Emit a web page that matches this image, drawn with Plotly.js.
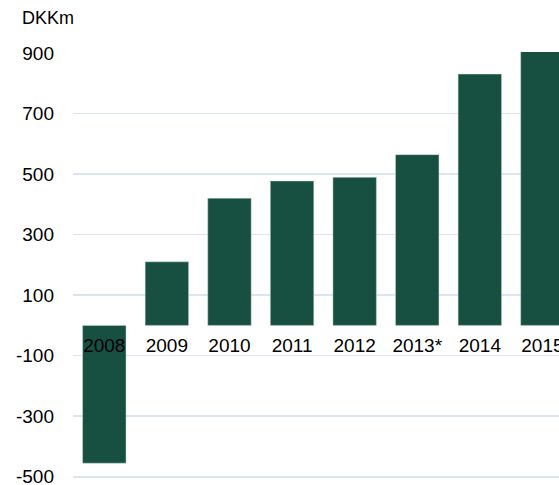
<!DOCTYPE html>
<html>
<head>
<meta charset="utf-8">
<script src="https://cdn.plot.ly/plotly-3.0.1.min.js"></script>
<style>html,body{margin:0;padding:0;background:#fff;}#chart{width:559px;height:485px;}</style>
</head>
<body>
<div id="chart"></div>
<script>
const years = ["2008", "2009", "2010", "2011", "2012", "2013*", "2014", "2015"];
const values = [-455, 210, 420, 477, 489, 564, 830, 960];
const yTicks = [-500, -300, -100, 100, 300, 500, 700, 900];
const unitLabel = "DKKm";

const FONT = "Liberation Sans, Arial, sans-serif";
const yMin = -504, yMax = 903;
const trace = {
  type: "bar",
  x: years,
  y: values,
  marker: {color: "#175040", line: {color: "rgba(200,220,210,0.6)", width: 0.8}},
  hoverinfo: "skip"
};
const pxPerUnit = 0.3024;
const layout = {
  width: 559, height: 485,
  margin: {l: 73, r: 0, t: 53.3 - (yMax - 900) * pxPerUnit, b: 485 - 476.7 - (-500 - yMin) * pxPerUnit, pad: 0},
  paper_bgcolor: "#fff", plot_bgcolor: "#fff",
  font: {family: FONT, size: 19, color: "#000"},
  showlegend: false,
  bargap: 0.306,
  xaxis: {
    type: "category",
    range: [-0.5, 7.265],
    anchor: "free",
    position: (0 - yMin) / (yMax - yMin),
    showgrid: false, zeroline: false, showline: false,
    ticks: "", ticklabelstandoff: 7, ticklabeloverflow: "allow",
    tickfont: {family: FONT, size: 19, color: "#000"}
  },
  yaxis: {
    range: [yMin, yMax],
    tickvals: yTicks,
    ticktext: yTicks.map(String),
    showgrid: true, gridcolor: "#DCE4F0", gridwidth: 1.5,
    zeroline: false, showline: false,
    ticks: "", ticklabelstandoff: 18, ticklabeloverflow: "allow",
    tickfont: {family: FONT, size: 19, color: "#000"}
  },
  annotations: [{
    text: unitLabel, xref: "paper", yref: "paper",
    x: (20 - 73) / 486, y: 1 + (53.3 - 20) / 423.4,
    xanchor: "left", yanchor: "middle", showarrow: false,
    font: {family: FONT, size: 18, color: "#000"}
  }]
};
Plotly.newPlot("chart", [trace], layout, {displayModeBar: false, staticPlot: true});
</script>
</body>
</html>
